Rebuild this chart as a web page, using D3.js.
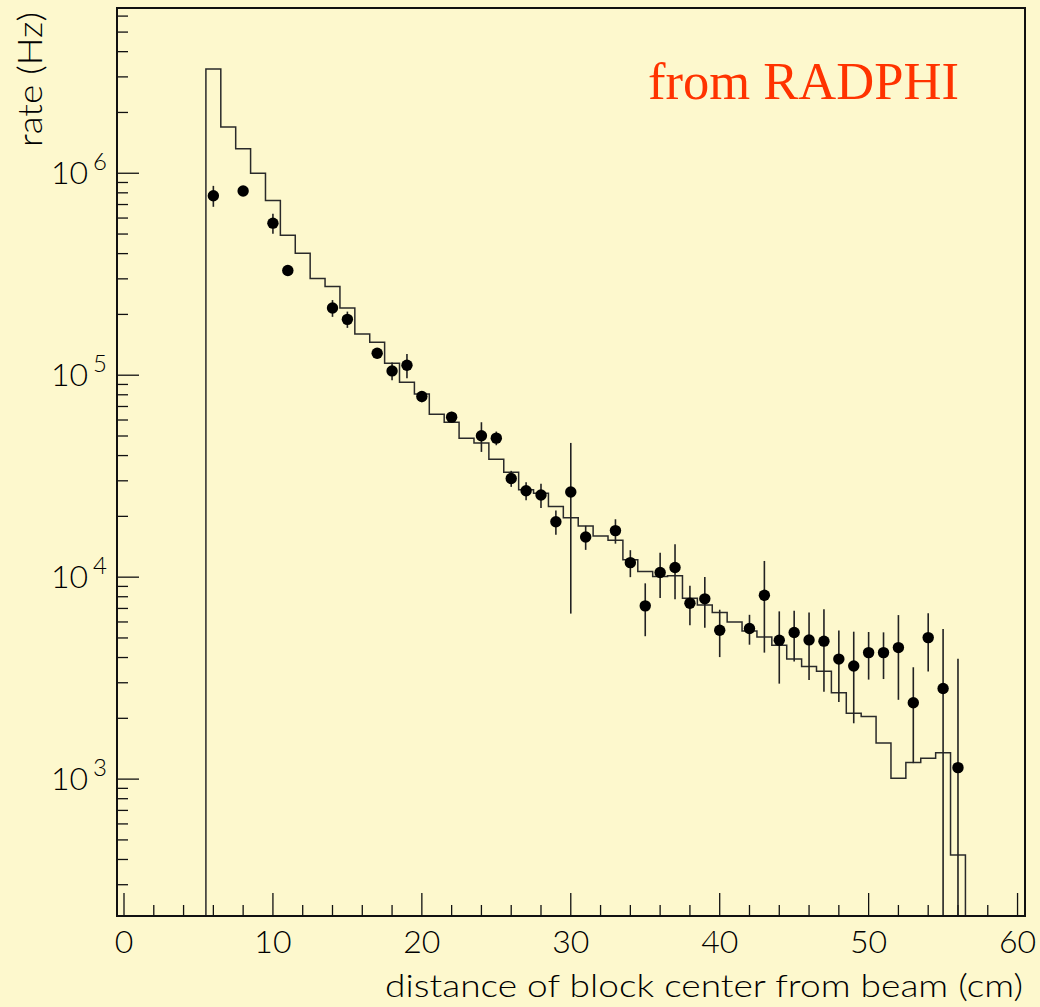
<!DOCTYPE html>
<html>
<head>
<meta charset="utf-8">
<script src="https://cdn.jsdelivr.net/npm/d3@7"></script>
<style>
  body { margin: 0; background: #fdf8cd; }
  svg { display: block; }
</style>
</head>
<body>
<div id="chart"></div>
<script>
const width = 1040;
const height = 1007;

// measured rates (dots), x = distance in cm
const dataX = [6, 8, 10, 11, 14, 15, 17, 18, 19, 20, 22, 24, 25, 26, 27, 28, 29, 30, 31, 33, 34,
    35, 36, 37, 38, 39, 40, 42, 43, 44, 45, 46, 47, 48, 49, 50, 51, 52, 53, 54, 55, 56];
const dataRate = [7.74e5, 8.17e5, 5.66e5, 3.30e5, 2.15e5, 1.89e5, 1.285e5, 1.05e5, 1.12e5, 7.84e4,
    6.20e4, 5.01e4, 4.88e4, 3.08e4, 2.68e4, 2.55e4, 1.88e4, 2.64e4, 1.58e4, 1.70e4, 1.18e4,
    7.21e3, 1.054e4, 1.116e4, 7.43e3, 7.81e3, 5.46e3, 5.57e3, 8.13e3, 4.87e3, 5.32e3, 4.89e3,
    4.82e3, 3.93e3, 3.63e3, 4.23e3, 4.23e3, 4.48e3, 2.39e3, 5.02e3, 2.81e3, 1.14e3];
const dataErr = [9.2e4, 4.6e4, 6.4e4, 1.7e4, 2.05e4, 1.75e4, 7.3e3, 1.06e4, 1.55e4, 4.9e3,
    3.85e3, 8.4e3, 3.8e3, 2.8e3, 2.75e3, 3.5e3, 2.6e3, 1.98e4, 2.15e3, 2.35e3, 1.8e3,
    2.11e3, 2.66e3, 3.38e3, 1.65e3, 2.2e3, 1.44e3, 0.94e3, 3.9e3, 1.9e3, 1.5e3, 1.79e3,
    2.11e3, 1.52e3, 1.74e3, 1.12e3, 1.1e3, 2.01e3, 1.19e3, 1.61e3, 2.72e3, 2.8e3];

// simulated rates (histogram), bins of 1 cm centred on 6..56
const mcBins = d3.range(6, 57);
const mcRate = [3.28e6, 1.695e6, 1.324e6, 1.0e6, 7.32e5, 4.93e5, 4.02e5, 3.01e5, 2.75e5, 2.15e5,
    1.60e5, 1.457e5, 1.147e5, 9.23e4, 8.08e4, 6.41e4, 5.85e4, 4.88e4, 4.61e4, 3.84e4,
    3.31e4, 2.71e4, 2.60e4, 2.24e4, 1.97e4, 1.79e4, 1.60e4, 1.525e4, 1.22e4, 1.066e4,
    1.007e4, 1.015e4, 7.87e3, 7.28e3, 6.69e3, 5.99e3, 5.41e3, 5.05e3, 4.60e3, 3.93e3,
    3.61e3, 3.42e3, 2.68e3, 2.12e3, 2.04e3, 1.51e3, 1.01e3, 1.21e3, 1.27e3, 1.35e3, 421];

const xMajor = [0, 10, 20, 30, 40, 50, 60];
const yDecades = [3, 4, 5, 6];

const frame = { left: 117, right: 1025, top: 8, bottom: 916 };

const x = d3.scaleLinear().domain([-0.47, 60.5]).range([frame.left, frame.right]);
const y = d3.scaleLog().domain([210, 6.58e6]).range([frame.bottom, frame.top]).clamp(true);
const yPix = v => v > 0 ? y(v) : frame.bottom;

const svg = d3.select("#chart").append("svg")
    .attr("width", width).attr("height", height)
    .attr("viewBox", [0, 0, width, height]);

svg.append("rect").attr("width", width).attr("height", height).attr("fill", "#fdf8cd");

const labelFont = "Lato, 'DejaVu Sans', sans-serif";

// x ticks (inside, from the bottom)
const xTicks = d3.range(0, 61, 2);
svg.append("g").selectAll("line")
    .data(xTicks)
    .join("line")
    .attr("x1", d => x(d)).attr("x2", d => x(d))
    .attr("y1", frame.bottom)
    .attr("y2", d => frame.bottom - (d % 10 === 0 ? 23 : 11))
    .attr("stroke", "#111").attr("stroke-width", 1.3);

svg.append("g").selectAll("text")
    .data(xMajor)
    .join("text")
    .attr("x", d => x(d)).attr("y", 953)
    .attr("text-anchor", "middle")
    .attr("font-family", labelFont).attr("font-weight", 300)
    .attr("font-size", 32).attr("fill", "#000")
    .text(d => d);

// y ticks (log, inside, from the left)
const yMinor = [];
for (let e = 2; e <= 6; e++) {
    for (let m = 1; m <= 9; m++) {
        const v = m * Math.pow(10, e);
        if (v >= y.domain()[0] && v <= y.domain()[1]) yMinor.push(v);
    }
}
svg.append("g").selectAll("line")
    .data(yMinor)
    .join("line")
    .attr("x1", frame.left)
    .attr("x2", d => frame.left + (Math.abs(Math.log10(d) % 1) < 1e-9 ? 22 : 11))
    .attr("y1", d => y(d)).attr("y2", d => y(d))
    .attr("stroke", "#111").attr("stroke-width", 1.3);

const yLab = svg.append("g").selectAll("text")
    .data(yDecades)
    .join("text")
    .attr("x", 107)
    .attr("y", d => y(Math.pow(10, d)) + 11)
    .attr("text-anchor", "end")
    .attr("font-family", labelFont).attr("font-weight", 300)
    .attr("font-size", 32).attr("fill", "#000");
yLab.append("tspan").text("10");
yLab.append("tspan")
    .attr("dx", 5).attr("dy", -14)
    .attr("font-size", 24)
    .text(d => d);

// axis titles
svg.append("text")
    .attr("x", 1023).attr("y", 997)
    .attr("text-anchor", "end")
    .attr("font-family", labelFont).attr("font-weight", 300)
    .attr("font-size", 32)
    .attr("textLength", 638).attr("lengthAdjust", "spacingAndGlyphs")
    .text("distance of block center from beam (cm)");

svg.append("text")
    .attr("transform", "translate(42,12) rotate(-90)")
    .attr("text-anchor", "end")
    .attr("font-family", labelFont).attr("font-weight", 300)
    .attr("font-size", 34)
    .attr("textLength", 135).attr("lengthAdjust", "spacingAndGlyphs")
    .text("rate (Hz)");

// simulation histogram
const histPts = [[mcBins[0] - 0.5, 0]];
mcBins.forEach((b, i) => histPts.push([b - 0.5, mcRate[i]]));
histPts.push([mcBins[mcBins.length - 1] + 0.5, mcRate[mcRate.length - 1]]);
histPts.push([mcBins[mcBins.length - 1] + 0.5, 0]);

const histLine = d3.line()
    .x(d => x(d[0]))
    .y(d => yPix(d[1]))
    .curve(d3.curveStepAfter);

svg.append("path")
    .datum(histPts)
    .attr("d", histLine)
    .attr("fill", "none")
    .attr("stroke", "#2a2a2a")
    .attr("stroke-width", 1.5);

// data points with error bars
const pts = dataX.map((d, i) => ({ x: d, v: dataRate[i], e: dataErr[i] }));

svg.append("g").selectAll("line")
    .data(pts)
    .join("line")
    .attr("x1", d => x(d.x)).attr("x2", d => x(d.x))
    .attr("y1", d => yPix(d.v + d.e))
    .attr("y2", d => yPix(d.v - d.e))
    .attr("stroke", "#222").attr("stroke-width", 1.6);

svg.append("g").selectAll("circle")
    .data(pts)
    .join("circle")
    .attr("cx", d => x(d.x))
    .attr("cy", d => y(d.v))
    .attr("r", 5.7)
    .attr("fill", "#000");

// frame
svg.append("rect")
    .attr("x", frame.left).attr("y", frame.top)
    .attr("width", frame.right - frame.left)
    .attr("height", frame.bottom - frame.top)
    .attr("fill", "none")
    .attr("stroke", "#111").attr("stroke-width", 2);

svg.append("text")
    .attr("x", 648).attr("y", 99)
    .attr("font-family", "'Liberation Serif', 'DejaVu Serif', serif")
    .attr("font-size", 52)
    .attr("fill", "#ff3300")
    .attr("textLength", 311).attr("lengthAdjust", "spacingAndGlyphs")
    .text("from RADPHI");
</script>
</body>
</html>
